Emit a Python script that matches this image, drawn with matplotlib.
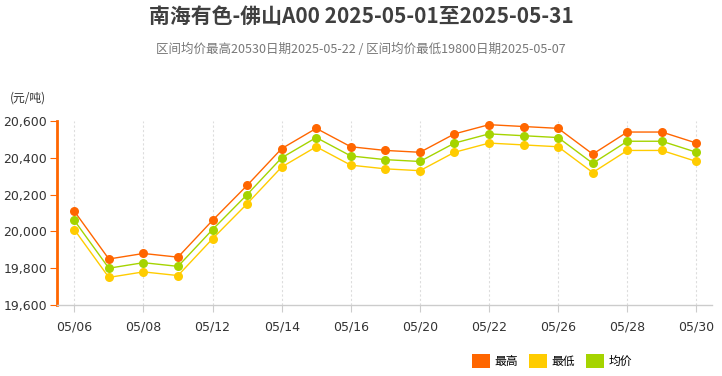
import matplotlib
matplotlib.use("Agg")
import matplotlib.pyplot as plt
from matplotlib.patches import Patch
from matplotlib.ticker import FuncFormatter

plt.rcParams['font.family'] = ['Noto Sans CJK SC', 'DejaVu Sans']

# trading days in May 2025
dates = ['05/06', '05/07', '05/08', '05/09', '05/12', '05/13', '05/14', '05/15',
         '05/16', '05/19', '05/20', '05/21', '05/22', '05/23', '05/26', '05/27',
         '05/28', '05/29', '05/30']
high = [20110, 19850, 19880, 19860, 20060, 20250, 20450, 20560, 20460, 20440,
        20430, 20530, 20580, 20570, 20560, 20420, 20540, 20540, 20480]
low = [20010, 19750, 19780, 19760, 19960, 20150, 20350, 20460, 20360, 20340,
       20330, 20430, 20480, 20470, 20460, 20320, 20440, 20440, 20380]
avg = [20060, 19800, 19830, 19810, 20010, 20200, 20400, 20510, 20410, 20390,
       20380, 20480, 20530, 20520, 20510, 20370, 20490, 20490, 20430]

series = [('最高', high, '#FF6600'), ('最低', low, '#FFCC00'), ('均价', avg, '#A5D400')]

fig = plt.figure(figsize=(7.22, 3.76), dpi=100)
ax = fig.add_axes([57 / 722, 1 - 305 / 376, (712 - 57) / 722, (305 - 121) / 376])

x = list(range(len(dates)))
# low first, then avg, high on top
for name, vals, color in [series[1], series[2], series[0]]:
    ax.plot(x, vals, color=color, lw=1, marker='o', markersize=6.5,
            markeredgewidth=0, zorder=3)

ax.set_xlim(-0.5, len(dates) - 0.55)
ax.set_ylim(19600, 20600)
ax.set_yticks([19600, 19800, 20000, 20200, 20400, 20600])
ax.yaxis.set_major_formatter(FuncFormatter(lambda v, p: f'{int(v):,}'))
ax.set_xticks(x[::2])
ax.set_xticklabels(dates[::2])

for s in ['top', 'right']:
    ax.spines[s].set_visible(False)
ax.spines['left'].set_color('#FF6600')
ax.spines['left'].set_linewidth(2)
ax.spines['bottom'].set_color('#CCCCCC')
ax.spines['bottom'].set_linewidth(1)

ax.tick_params(axis='y', colors='#FF6600', labelcolor='#333333', labelsize=9,
               length=5, width=0.8, pad=2)
ax.tick_params(axis='x', colors='#CCCCCC', labelcolor='#333333', labelsize=9,
               length=5, width=0.8, pad=6)
for lab in ax.get_yticklabels() + ax.get_xticklabels():
    lab.set_family('DejaVu Sans')

ax.grid(axis='x', color='#DDDDDD', linestyle=(0, (2, 2)), linewidth=0.8)
ax.set_axisbelow(True)

fig.text(0.5, 1 - 16 / 376, '南海有色-佛山A00 2025-05-01至2025-05-31',
         ha='center', va='center', fontsize=15, fontweight='bold', color='#3F3F3F')
fig.text(0.5, 1 - 49 / 376,
         '区间均价最高20530日期2025-05-22 / 区间均价最低19800日期2025-05-07',
         ha='center', va='center', fontsize=9, color='#777777')
fig.text(10 / 722, 1 - 98 / 376, '(元/吨)', ha='left', va='center',
         fontsize=8.5, color='#333333')

handles = [Patch(facecolor=c, edgecolor='none', label=n) for n, v, c in series]
fig.legend(handles=handles, loc='center', bbox_to_anchor=(552 / 722, 1 - 361 / 376),
           ncol=3, frameon=False, fontsize=8.5, handlelength=1.5, handleheight=1.5,
           handletextpad=0.4, columnspacing=0.95)

fig.savefig('out.png', dpi=100)
